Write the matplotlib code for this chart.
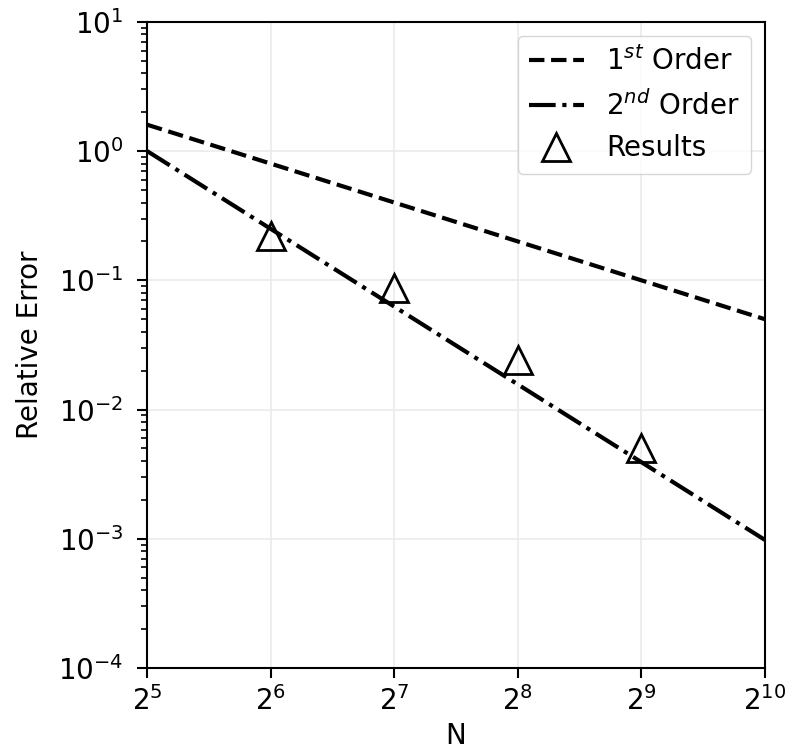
import numpy as np
import matplotlib.pyplot as plt

# reference slopes (end points) and measured results
n_ref = [2**5, 2**10]
first_order = [1.6, 0.05]
second_order = [1.0, 0.00098]

n_res = [2**6, 2**7, 2**8, 2**9]
err_res = [0.22, 0.087, 0.024, 0.005]

fig = plt.figure(figsize=(7.87, 7.54), dpi=100)
ax = fig.add_axes([0.187, 0.114, 0.785, 0.857])

ax.plot(n_ref, first_order, '--', color='black', lw=3, label=r'$1^{st}$ Order')
ax.plot(n_ref, second_order, '-.', color='black', lw=3, label=r'$2^{nd}$ Order')
ax.plot(n_res, err_res, '^', ms=20, mfc='none', mec='black', mew=2,
        label='Results')

ax.set_xscale('log', base=2)
ax.set_yscale('log')
ax.set_xlim(2**5, 2**10)
ax.set_ylim(1e-4, 1e1)

ax.set_xlabel('N', fontsize=20, labelpad=4)
ax.set_ylabel('Relative Error', fontsize=20, labelpad=10)
ax.tick_params(axis='both', which='major', labelsize=20, width=1.5, length=7)
ax.tick_params(axis='x', which='major', pad=6)
ax.tick_params(axis='y', which='major', pad=10)
ax.tick_params(axis='y', which='minor', width=1.2, length=4)
for s in ax.spines.values():
    s.set_linewidth(1.5)

ax.grid(True, which='major', color='#ebebeb', lw=1.2)
ax.legend(loc='upper right', fontsize=20)

fig.savefig('out.png', dpi=100)
